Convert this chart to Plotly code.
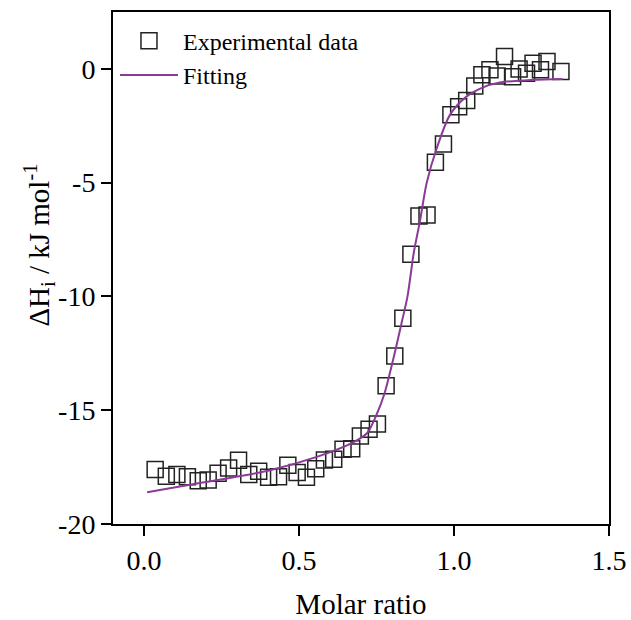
import plotly.graph_objects as go

# Experimental data (molar ratio, ΔHi in kJ/mol)
exp_x = [0.036, 0.072, 0.106, 0.140, 0.175, 0.207, 0.239, 0.273, 0.305, 0.338,
         0.370, 0.402, 0.434, 0.464, 0.494, 0.524, 0.554, 0.582, 0.612, 0.642,
         0.670, 0.698, 0.726, 0.753, 0.781, 0.809, 0.835, 0.861, 0.887, 0.913,
         0.940, 0.966, 0.990, 1.015, 1.041, 1.067, 1.090, 1.116, 1.139, 1.163,
         1.189, 1.210, 1.234, 1.255, 1.279, 1.300, 1.345]
exp_y = [-17.60, -17.90, -17.83, -17.92, -18.10, -18.07, -17.77, -17.54, -17.20, -17.83,
         -17.68, -17.95, -17.92, -17.42, -17.74, -17.95, -17.57, -17.19, -17.16, -16.72,
         -16.69, -16.13, -15.84, -15.60, -13.93, -12.62, -10.96, -8.15, -6.46, -6.42,
         -4.10, -3.30, -2.02, -1.66, -1.39, -0.75, -0.26, -0.04, -0.31, 0.54,
         -0.34, -0.01, -0.19, 0.25, -0.04, 0.32, -0.12]

# Fitted curve
fit_x = [0.01, 0.18, 0.40, 0.56, 0.67, 0.72, 0.75, 0.775, 0.805, 0.832, 0.85,
         0.87, 0.89, 0.912, 0.944, 0.987, 1.04, 1.094, 1.148, 1.255, 1.35]
fit_y = [-18.6, -18.2, -17.66, -17.04, -16.45, -16.0, -15.2, -14.3, -12.7, -11.1, -10.0,
         -8.1, -6.7, -5.0, -3.5, -2.02, -1.22, -0.81, -0.60, -0.48, -0.44]

x_ticks = [0.0, 0.5, 1.0, 1.5]
x_ticklabels = ["0.0", "0.5", "1.0", "1.5"]
y_ticks = [0, -5, -10, -15, -20]
y_ticklabels = ["0", "-5", "-10", "-15", "-20"]

FONT = "Liberation Serif, Times New Roman, serif"

fig = go.Figure()
fig.add_trace(go.Scatter(
    x=exp_x, y=exp_y, mode="markers", name="Experimental data",
    marker=dict(symbol="square-open", size=16, color="#222222",
                line=dict(width=1.5, color="#222222")),
))
fig.add_trace(go.Scatter(
    x=fit_x, y=fit_y, mode="lines", name="Fitting",
    line=dict(color="#8B3B97", width=2, shape="spline", smoothing=0.8),
))

axis_common = dict(
    showgrid=False, zeroline=False, showline=True, linecolor="black", linewidth=2,
    mirror=True, ticks="outside", ticklen=10, tickwidth=2, tickcolor="black",
    tickfont=dict(family=FONT, size=28, color="black"),
    automargin=False, ticklabeloverflow="allow",
)

fig.update_layout(
    width=631, height=620,
    margin=dict(l=113, r=22, t=12, b=96),
    paper_bgcolor="white", plot_bgcolor="white",
    font=dict(family=FONT, color="black"),
    xaxis=dict(range=[-0.1, 1.5], tickvals=x_ticks, ticktext=x_ticklabels,
               title=dict(text="Molar ratio", font=dict(family=FONT, size=29), standoff=22),
               **axis_common),
    yaxis=dict(range=[-20, 2.5], tickvals=y_ticks, ticktext=y_ticklabels,
               **axis_common),
    annotations=[dict(
        text="ΔH<sub>i</sub> / kJ mol<sup>-1</sup>", textangle=-90,
        xref="paper", yref="paper", x=-0.15, y=0.545, xanchor="center", yanchor="middle",
        showarrow=False, font=dict(family=FONT, size=29, color="black"),
    )],
    legend=dict(x=0.004, y=0.987, xanchor="left", yanchor="top",
                bgcolor="rgba(0,0,0,0)", font=dict(family=FONT, size=24),
                itemwidth=58, tracegroupgap=0),
    showlegend=True,
)

fig.write_html(
    "out.html",
    config={"displayModeBar": False},
    post_script="document.body.style.margin='0';document.body.style.overflow='hidden';",
)
